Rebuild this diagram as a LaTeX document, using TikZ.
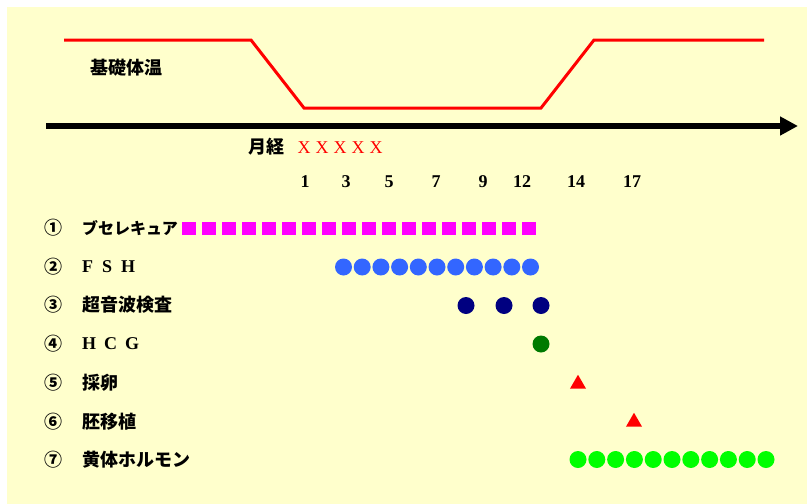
\documentclass[tikz,border=0pt]{standalone}
\usepackage{fontspec}
\setmainfont{Liberation Serif}
\newfontfamily\jp{Noto Sans CJK JP}
\usetikzlibrary{arrows.meta,shapes.geometric}
\definecolor{bgyellow}{HTML}{FFFFCC}
\definecolor{bmagenta}{HTML}{FF00FF}
\definecolor{fshblue}{HTML}{3366FF}
\definecolor{usnavy}{HTML}{000080}
\definecolor{hcggreen}{HTML}{007A00}
\definecolor{lhgreen}{HTML}{00FF00}
\tikzset{
  jptext/.style={inner sep=0pt, anchor=west, font=\jp\bfseries\fontsize{18pt}{18pt}\selectfont},
  numtext/.style={inner sep=0pt, font=\bfseries\fontsize{18pt}{18pt}\selectfont},
  circnum/.style={inner sep=0pt, font=\jp\bfseries\fontsize{18pt}{18pt}\selectfont},
  xmark/.style={inner sep=0pt, text=red, font=\fontsize{18pt}{18pt}\selectfont},
  sqmark/.style={fill=bmagenta, inner sep=0pt, minimum size=13.5pt, draw=none},
  dotmark/.style={circle, inner sep=0pt, minimum size=17pt, draw=none},
  trimark/.style={regular polygon, regular polygon sides=3, fill=red, inner sep=0pt, minimum size=18.5pt, draw=none},
}
\begin{document}
\begin{tikzpicture}[x=1pt,y=-1pt]
\useasboundingbox (0,0) rectangle (807,504);
\fill[white] (0,0) rectangle (807,504);
\fill[bgyellow] (7,7) rectangle (807,504);
% basal body temperature curve
\coordinate (t1) at (64,40);
\coordinate (t2) at (251,40);
\coordinate (t3) at (304,108);
\coordinate (t4) at (541,108);
\coordinate (t5) at (594,40);
\coordinate (t6) at (764,40);
\draw[red, line width=3pt, line join=miter] (t1) -- (t2) -- (t3) -- (t4) -- (t5) -- (t6);
\node[jptext] (bbt) at (90,68) {基礎体温};
% time axis
\coordinate (a1) at (46,126);
\coordinate (a2) at (798,126);
\draw[line width=6pt, -{Triangle[length=18pt,width=18pt]}] (a1) -- (a2);
% menstruation
\node[jptext] (mens) at (248,147) {月経};
\foreach \i/\xx in {1/304,2/322,3/340,4/358,5/376}
  \node[xmark] (x\i) at (\xx,148) {X};
% day numbers
\foreach \n/\xx in {1/305,3/346,5/389,7/436,9/483,12/522,14/576,17/632}
  \node[numtext] (d\n) at (\xx,182) {\n};
% row labels
\foreach \k/\yy in {1/228,2/267,3/305,4/344,5/383,6/422,7/460}
  \node[circnum] (c\k) at (53,\yy) {\ifcase\k\or ①\or ②\or ③\or ④\or ⑤\or ⑥\or ⑦\fi};
\node[jptext, font=\jp\bfseries\fontsize{16pt}{16pt}\selectfont] (l1) at (82,228) {ブセレキュア};
\node[inner sep=0pt, anchor=west, font=\bfseries\fontsize{18pt}{18pt}\selectfont] (l2) at (82,267) {F\hspace{9pt}S\hspace{9pt}H};
\node[jptext] (l3) at (82,305) {超音波検査};
\node[inner sep=0pt, anchor=west, font=\bfseries\fontsize{18pt}{18pt}\selectfont] (l4) at (82,344) {H\hspace{8pt}C\hspace{8pt}G};
\node[jptext] (l5) at (82,383) {採卵};
\node[jptext] (l6) at (82,422) {胚移植};
\node[jptext] (l7) at (82,460) {黄体ホルモン};
% 1 buserecur squares
\foreach \i in {0,...,17}
  \node[sqmark] (s\i) at ({189+20*\i},228.5) {};
% 2 FSH
\foreach \i in {0,...,10}
  \node[dotmark, fill=fshblue] (f\i) at ({343.5+18.7*\i},267) {};
% 3 ultrasound
\foreach \i/\xx in {1/466,2/504,3/541}
  \node[dotmark, fill=usnavy] (u\i) at (\xx,305.5) {};
% 4 HCG
\node[dotmark, fill=hcggreen] (h1) at (541,344) {};
% 5, 6 triangles
\node[trimark] (o1) at (578,384) {};
\node[trimark] (e1) at (634,422) {};
% 7 luteal hormone
\foreach \i in {0,...,10}
  \node[dotmark, fill=lhgreen] (g\i) at ({578+18.8*\i},459.5) {};
\end{tikzpicture}
\end{document}
